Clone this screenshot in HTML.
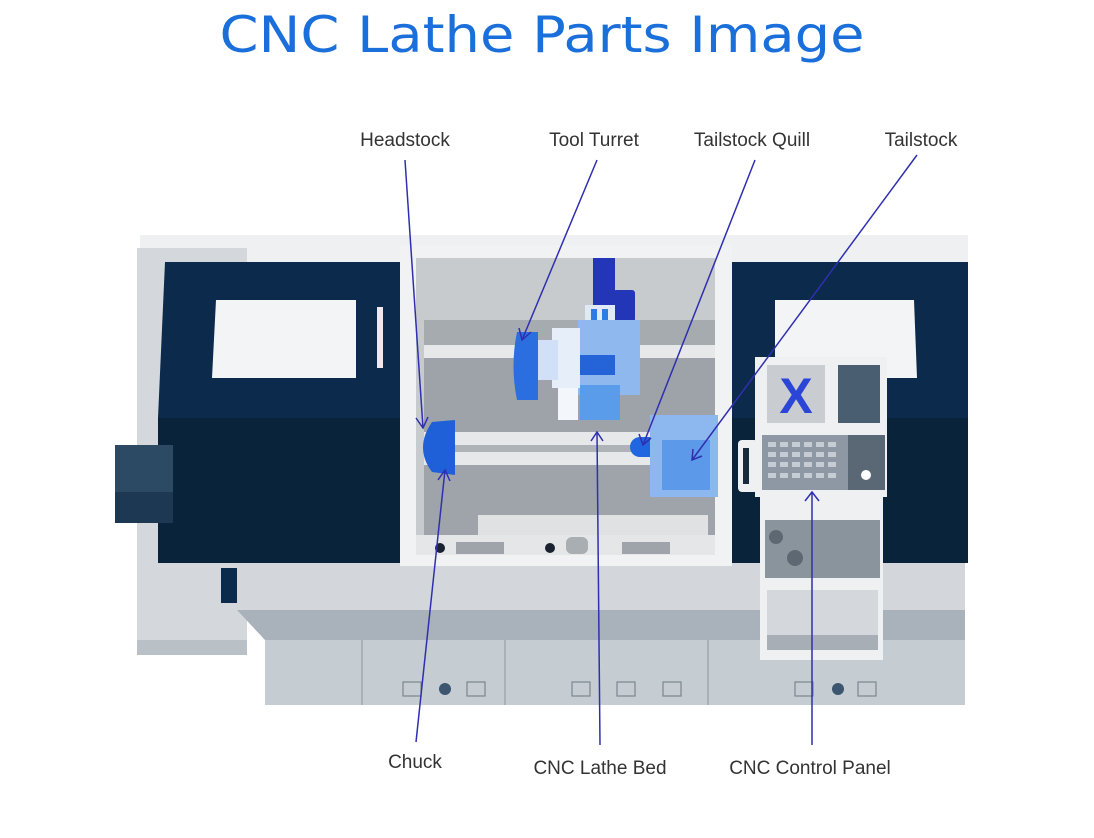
<!DOCTYPE html>
<html><head><meta charset="utf-8"><style>
html,body{margin:0;padding:0;background:#fff;}
svg{display:block;font-family:"Liberation Sans",sans-serif;}
</style></head><body>
<svg width="1094" height="838" viewBox="0 0 1094 838" xmlns="http://www.w3.org/2000/svg">
<rect width="1094" height="838" fill="#fff"/>
<text x="542" y="52" font-size="50" fill="#1a6fdb" text-anchor="middle" textLength="645" lengthAdjust="spacingAndGlyphs" style="font-family:'DejaVu Sans',sans-serif">CNC Lathe Parts Image</text>

<!-- top strip -->
<rect x="140" y="235" width="828" height="28" fill="#eef0f2"/>
<!-- left body -->
<rect x="137" y="248" width="110" height="407" fill="#d4d8dd"/>
<rect x="137" y="640" width="110" height="15" fill="#b9c0c6"/>
<polygon points="165,262 400,262 400,563 158,563 158,418" fill="#0c2a4b"/>
<rect x="158" y="418" width="242" height="145" fill="#08233a"/>
<rect x="115" y="445" width="58" height="78" fill="#2c4a63"/>
<rect x="115" y="492" width="58" height="31" fill="#1c3852"/>
<polygon points="216,300 356,300 356,378 212,378" fill="#f3f4f6"/>
<rect x="377" y="307" width="6" height="61" fill="#f0e8ee"/>
<!-- right navy -->
<rect x="732" y="262" width="236" height="301" fill="#0c2a4b"/>
<rect x="732" y="418" width="236" height="145" fill="#08233a"/>
<polygon points="775,300 914,300 917,378 775,378" fill="#f3f4f6"/>
<!-- base -->
<rect x="237" y="563" width="728" height="50" fill="#d3d7dc"/>
<polygon points="237,610 965,610 965,640 265,640" fill="#a9b2ba"/>
<rect x="221" y="568" width="16" height="35" fill="#0c2a4b"/>
<rect x="265" y="640" width="700" height="65" fill="#c5ccd2"/>
<g stroke="#8f98a0" stroke-width="1"><line x1="362" y1="640" x2="362" y2="705"/><line x1="505" y1="640" x2="505" y2="705"/><line x1="708" y1="640" x2="708" y2="705"/></g>
<g fill="none" stroke="#7c868f" stroke-width="1.2">
<rect x="403" y="682" width="18" height="14"/><rect x="467" y="682" width="18" height="14"/>
<rect x="572" y="682" width="18" height="14"/><rect x="617" y="682" width="18" height="14"/><rect x="663" y="682" width="18" height="14"/>
<rect x="795" y="682" width="18" height="14"/><rect x="858" y="682" width="18" height="14"/></g>
<circle cx="445" cy="689" r="6" fill="#3c5670"/><circle cx="838" cy="689" r="6" fill="#3c5670"/>

<!-- center enclosure -->
<rect x="400" y="245" width="332" height="321" fill="#f1f2f4"/>
<rect x="416" y="258" width="299" height="297" fill="#c8cbce"/>
<rect x="424" y="320" width="291" height="25" fill="#a6abb0"/>
<rect x="424" y="345" width="291" height="13" fill="#e6e8ea"/>
<rect x="424" y="358" width="291" height="74" fill="#9da3a9"/>
<rect x="424" y="432" width="291" height="13" fill="#e6e8ea"/>
<rect x="424" y="445" width="291" height="7" fill="#aeb3b8"/>
<rect x="424" y="452" width="291" height="13" fill="#e6e8ea"/>
<rect x="424" y="465" width="291" height="70" fill="#9ea4aa"/>
<rect x="478" y="515" width="230" height="22" fill="#dfe1e3"/>
<rect x="416" y="535" width="299" height="20" fill="#e4e6e8"/>
<rect x="456" y="542" width="48" height="12" fill="#9ea4aa"/>
<rect x="622" y="542" width="48" height="12" fill="#9ea4aa"/>
<rect x="566" y="537" width="22" height="17" rx="6" fill="#a9aeb3"/>
<circle cx="440" cy="548" r="5" fill="#1a2230"/><circle cx="550" cy="548" r="5" fill="#1a2230"/>

<!-- turret -->
<rect x="593" y="258" width="22" height="60" fill="#2436b8"/>
<rect x="613" y="290" width="22" height="32" rx="3" fill="#2436b8"/>
<rect x="585" y="305" width="30" height="22" fill="#dfe9f8"/>
<rect x="591" y="309" width="6" height="14" fill="#2e7be6"/><rect x="602" y="309" width="6" height="14" fill="#2e7be6"/>
<rect x="578" y="320" width="62" height="75" fill="#8fb8ee"/>
<rect x="580" y="385" width="40" height="35" fill="#5b9cea"/>
<rect x="558" y="385" width="20" height="35" fill="#f3f6fb"/>
<rect x="552" y="328" width="28" height="60" fill="#e6eefa"/>
<rect x="538" y="340" width="20" height="40" fill="#cfe0f7"/>
<rect x="580" y="355" width="35" height="20" fill="#2563d8"/>
<path d="M517,332 H538 V400 H517 Q510,366 517,332 Z" fill="#2a6ee0"/>
<!-- chuck -->
<path d="M432,422 L455,420 L455,475 L432,472 Q414,448 432,422 Z" fill="#1f5fd8"/>
<!-- quill and tailstock -->
<path d="M640,437 H655 V457 H640 A10,10 0 0 1 640,437 Z" fill="#2066e0"/>
<rect x="650" y="415" width="68" height="82" fill="#8db7ef"/>
<rect x="662" y="440" width="48" height="50" fill="#5c9ae9"/>

<!-- control panel -->
<rect x="738" y="440" width="20" height="52" rx="4" fill="#eef0f2"/>
<rect x="743" y="448" width="6" height="36" fill="#1a2a3a"/>
<rect x="755" y="357" width="132" height="140" fill="#eef0f2"/>
<rect x="760" y="492" width="123" height="168" fill="#eef0f2"/>
<rect x="767" y="365" width="58" height="58" fill="#c9ccd0"/>
<text x="796" y="413" font-size="50" font-weight="bold" fill="#2b45d6" text-anchor="middle">X</text>
<rect x="838" y="365" width="42" height="58" fill="#4a5e72"/>
<rect x="762" y="435" width="123" height="55" fill="#8d98a4"/>
<rect x="848" y="435" width="37" height="55" fill="#5a6876"/>
<g fill="#c5ccd3">
<rect x="768" y="442" width="8" height="5"/><rect x="780" y="442" width="8" height="5"/><rect x="792" y="442" width="8" height="5"/><rect x="804" y="442" width="8" height="5"/><rect x="816" y="442" width="8" height="5"/><rect x="828" y="442" width="8" height="5"/>
<rect x="768" y="452" width="8" height="5"/><rect x="780" y="452" width="8" height="5"/><rect x="792" y="452" width="8" height="5"/><rect x="804" y="452" width="8" height="5"/><rect x="816" y="452" width="8" height="5"/><rect x="828" y="452" width="8" height="5"/>
<rect x="768" y="462" width="8" height="5"/><rect x="780" y="462" width="8" height="5"/><rect x="792" y="462" width="8" height="5"/><rect x="804" y="462" width="8" height="5"/><rect x="816" y="462" width="8" height="5"/><rect x="828" y="462" width="8" height="5"/>
<rect x="768" y="473" width="8" height="5"/><rect x="780" y="473" width="8" height="5"/><rect x="792" y="473" width="8" height="5"/><rect x="804" y="473" width="8" height="5"/><rect x="816" y="473" width="8" height="5"/><rect x="828" y="473" width="8" height="5"/>
</g>
<circle cx="866" cy="475" r="5" fill="#fff"/>
<rect x="765" y="520" width="115" height="58" fill="#8a949d"/>
<circle cx="776" cy="537" r="7" fill="#5d6873"/><circle cx="795" cy="558" r="8" fill="#5d6873"/>
<rect x="767" y="590" width="111" height="60" fill="#d4d8dc"/>
<polygon points="767,635 878,635 878,650 767,650" fill="#a7aeb5"/>

<!-- connectors -->
<g stroke="#2f2fb0" stroke-width="1.5" fill="none">
<line x1="405" y1="160" x2="423" y2="428"/><polyline points="416,418 423,428 428,417"/>
<line x1="597" y1="160" x2="522" y2="340"/><polyline points="519,328 522,340 531,332"/>
<line x1="755" y1="160" x2="643" y2="445"/><polyline points="639,434 643,445 651,438"/>
<line x1="917" y1="155" x2="692" y2="460"/><polyline points="693,449 692,460 702,456"/>
<line x1="416" y1="742" x2="445" y2="470"/><polyline points="438,480 445,470 450,481"/>
<line x1="600" y1="745" x2="597" y2="432"/><polyline points="591,441 597,432 603,441"/>
<line x1="812" y1="745" x2="812" y2="492"/><polyline points="805,501 812,492 819,501"/>
</g>

<g font-size="19" fill="#333" text-anchor="middle">
<text x="405" y="146">Headstock</text>
<text x="594" y="146">Tool Turret</text>
<text x="752" y="146">Tailstock Quill</text>
<text x="921" y="146">Tailstock</text>
<text x="415" y="768">Chuck</text>
<text x="600" y="774">CNC Lathe Bed</text>
<text x="810" y="774">CNC Control Panel</text>
</g>
</svg>
</body></html>
